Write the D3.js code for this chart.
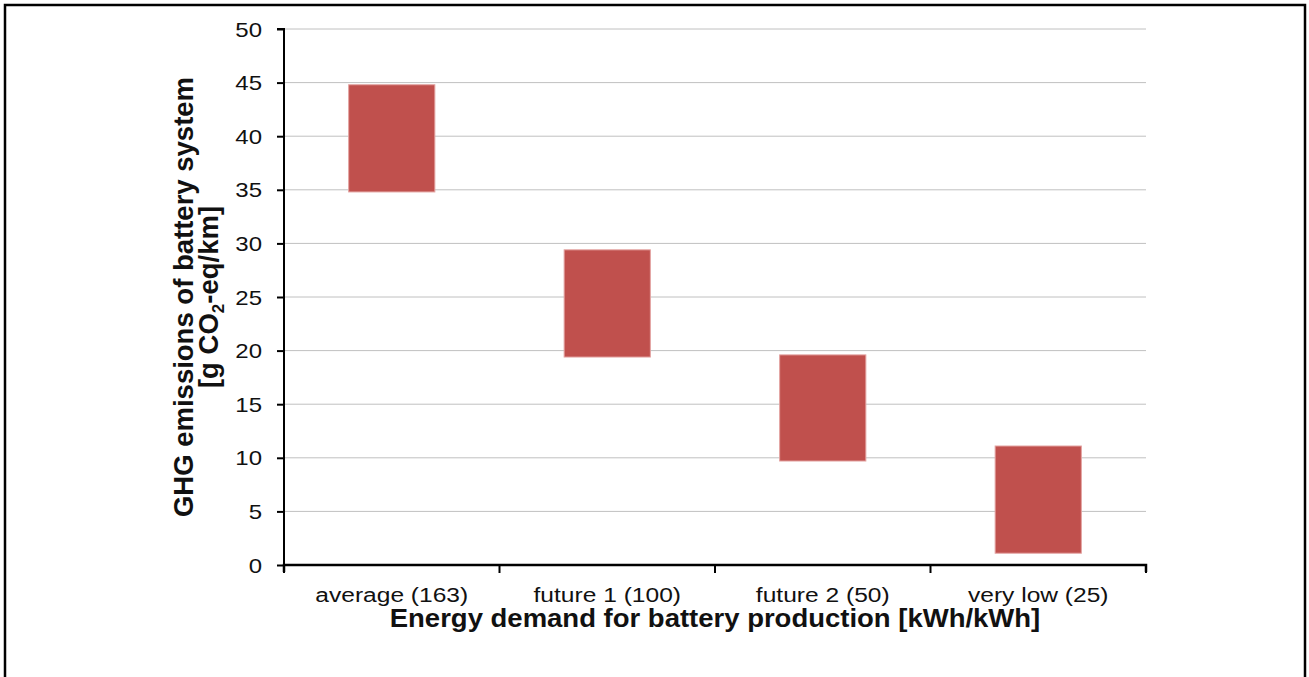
<!DOCTYPE html>
<html><head><meta charset="utf-8">
<script src="https://cdn.jsdelivr.net/npm/d3@7"></script>
<style>body{margin:0;background:#fff}svg{display:block}</style>
</head><body>
<svg id="c" width="1309" height="677"></svg>
<script>
const categories = ["average (163)", "future 1 (100)", "future 2 (50)", "very low (25)"];
const lowValues = [34.8, 19.4, 9.7, 1.1];
const highValues = [44.8, 29.4, 19.6, 11.1];
const yTicks = [0, 5, 10, 15, 20, 25, 30, 35, 40, 45, 50];

const svg = d3.select("#c");
const font = "'Liberation Sans', Arial, sans-serif";
svg.append("rect").attr("x", 5).attr("y", 5).attr("width", 1300).attr("height", 690)
  .attr("fill", "none").attr("stroke", "#000").attr("stroke-width", 2.5);

const L = 284, R = 1146, T = 29, B = 565;
const x = d3.scaleBand().domain(categories).range([L, R]).paddingInner(0.6).paddingOuter(0.3);
const xb = d3.scaleBand().domain(categories).range([L, R]);
const y = d3.scaleLinear().domain([0, 50]).range([B, T]);

// grid
svg.append("g").selectAll("line").data(yTicks.filter(d => d > 0)).join("line")
  .attr("x1", L).attr("x2", R).attr("y1", d => y(d)).attr("y2", d => y(d))
  .attr("stroke", "#c0c0c0").attr("stroke-width", 1);

// bars
svg.append("g").selectAll("rect").data(categories).join("rect")
  .attr("x", d => x(d)).attr("width", x.bandwidth())
  .attr("y", (d, i) => y(highValues[i]))
  .attr("height", (d, i) => y(lowValues[i]) - y(highValues[i]))
  .attr("fill", "#c0504d").attr("stroke", "#e3a3a1").attr("stroke-width", 1);

// y axis
const ya = svg.append("g").attr("transform", `translate(${L},0)`)
  .call(d3.axisLeft(y).tickValues(yTicks).tickSize(7));
ya.select(".domain").attr("stroke-width", 2).attr("d", `M-7,${T}H0V${B}`);
ya.selectAll(".tick line").attr("stroke-width", 2);
ya.selectAll("text").attr("font-family", font).attr("font-size", 20).attr("fill", "#111")
  .attr("x", -22 / 1.2).attr("dy", "0.35em").attr("transform", "scale(1.2,1)");

// x axis
const xa = svg.append("g").attr("transform", `translate(0,${B})`)
  .call(d3.axisBottom(xb).tickSize(0));
xa.select(".domain").attr("stroke-width", 2.5).attr("d", `M${L},7V0H${R}V7`);
xa.selectAll("text").attr("font-family", font).attr("font-size", 21).attr("fill", "#111")
  .attr("y", 37).attr("dy", 0).attr("transform", "scale(1.17,1)");
const boundaries = [0, 1, 2, 3, 4].map(i => L + i * xb.step());
xa.selectAll(".bt").data(boundaries).join("line").attr("class", "bt")
  .attr("x1", d => d).attr("x2", d => d).attr("y1", 0).attr("y2", 8)
  .attr("stroke", "#000").attr("stroke-width", 2);

// titles
svg.append("text").attr("transform", `translate(${(L + R) / 2},627) scale(1.1,1)`).attr("text-anchor", "middle")
  .attr("font-family", font).attr("font-size", 25).attr("font-weight", "bold").attr("fill", "#111")
  .text("Energy demand for battery production [kWh/kWh]");

const yt = svg.append("text")
  .attr("font-family", font).attr("font-size", 27.5).attr("font-weight", "bold").attr("fill", "#111")
  .attr("text-anchor", "middle");
yt.append("tspan").attr("x", 0).attr("y", 0).text("GHG emissions of battery system");
const l2 = yt.append("tspan").attr("x", 0).attr("y", 25);
l2.append("tspan").text("[g CO");
l2.append("tspan").attr("font-size", 17).attr("dy", 6).text("2");
l2.append("tspan").attr("dy", -6).text("-eq/km]");
yt.attr("transform", `translate(193,${(T + B) / 2}) rotate(-90)`);
</script>
</body></html>
